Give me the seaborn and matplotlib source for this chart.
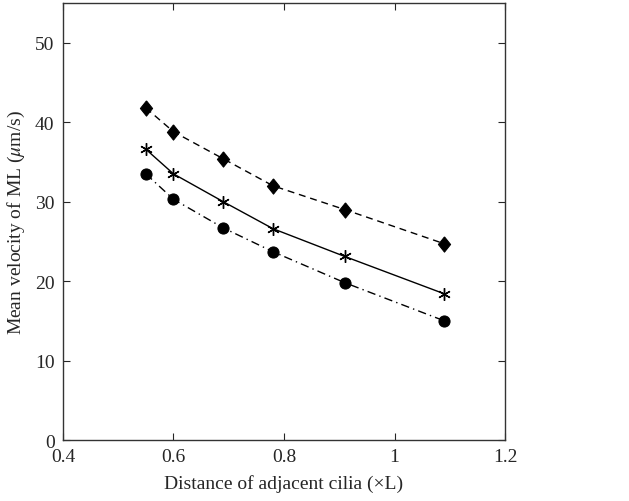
import pandas as pd
import matplotlib
matplotlib.use("Agg")
import matplotlib.pyplot as plt
import seaborn as sns

# data
distance = [0.55, 0.60, 0.69, 0.78, 0.91, 1.09]
diamond_vals = [41.8, 38.8, 35.4, 32.0, 29.0, 24.7]
star_vals = [36.6, 33.5, 30.0, 26.6, 23.1, 18.4]
circle_vals = [33.5, 30.3, 26.7, 23.7, 19.8, 15.0]

sns.set_style("ticks")
plt.rcParams['font.family'] = ['Liberation Serif', 'DejaVu Serif']
plt.rcParams['mathtext.fontset'] = 'stix'

fig = plt.figure(figsize=(6.29, 5.02), dpi=100)
ax = fig.add_axes([0.1, 0.1215, 0.703, 0.8705])

df = pd.DataFrame({"x": distance, "d": diamond_vals, "s": star_vals, "c": circle_vals})

# slightly tall diamond like the MATLAB one
diamond = [(0, 1), (0.8, 0), (0, -1), (-0.8, 0), (0, 1)]

sns.lineplot(data=df, x="x", y="d", ax=ax, color="black", linewidth=1.0,
             marker=diamond, markersize=11, markeredgecolor="black",
             linestyle=(0, (5, 3.5)))
sns.lineplot(data=df, x="x", y="s", ax=ax, color="black", linewidth=1.0,
             marker=(6, 2, 0), markersize=9, markeredgewidth=1.0,
             markeredgecolor="black")
sns.lineplot(data=df, x="x", y="c", ax=ax, color="black", linewidth=1.0,
             marker="o", markersize=8, markeredgecolor="black",
             linestyle=(0, (6, 3, 1, 3)))

ax.set_xlim(0.4, 1.2)
ax.set_ylim(0, 55)
ax.set_xticks([0.4, 0.6, 0.8, 1.0, 1.2])
ax.set_xticklabels(["0.4", "0.6", "0.8", "1", "1.2"])
ax.set_yticks([0, 10, 20, 30, 40, 50])
ax.tick_params(direction="in", top=True, right=True, labelsize=14, length=5, width=0.8)
ax.tick_params(axis="x", pad=6)
ax.tick_params(axis="y", pad=6)
for sp in ax.spines.values():
    sp.set_linewidth(1.0)
    sp.set_color("#333333")

ax.set_xlabel("Distance of adjacent cilia (×L)", fontsize=14, labelpad=6)
ax.set_ylabel(r"Mean velocity of ML ($\mu$m/s)", fontsize=14, labelpad=6)

fig.savefig("out.png", dpi=100)
